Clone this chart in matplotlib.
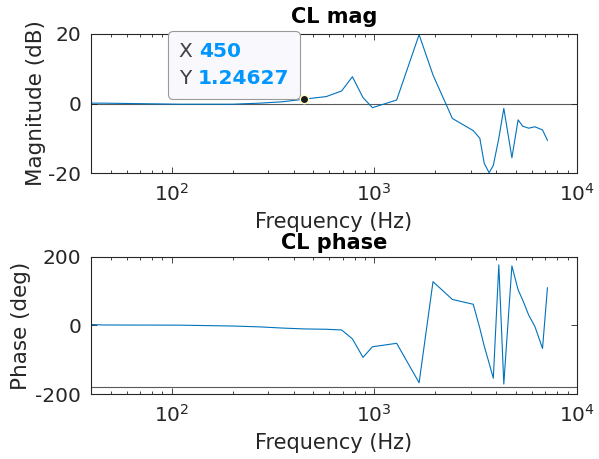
import numpy as np
import matplotlib
matplotlib.use('Agg')
import matplotlib.pyplot as plt
from matplotlib.offsetbox import TextArea, HPacker, VPacker, AnnotationBbox

# closed-loop response
freq = [40, 46, 110, 200, 272, 353, 450, 580, 690, 780, 880, 980, 1290, 1665, 1950,
        2430, 3080, 3320, 3490, 3690, 3870, 4120, 4360, 4780, 5130, 5400, 5780,
        6210, 6770, 7160]
mag_db = [0.1, 0.1, -0.2, -0.2, 0.1, 0.5, 1.24627, 2.0, 3.6, 7.7, 1.7, -1.2, 1.0, 19.8, 8.2,
          -4.3, -7.8, -10.0, -17.2, -19.9, -17.8, -10.0, -1.4, -15.6, -4.7, -6.5, -7.1,
          -6.7, -7.6, -10.6]
phase_deg = [3, 1.5, 1, -1.5, -4, -7.5, -10, -11, -13, -39, -93, -62, -52, -167, 128,
             76, 62, -8, -60, -110, -154, 177, -171, 174, 104, 75, 31,
             -3, -67, 110]

tip_x = 450
tip_y = 1.24627

line_col = '#0072BD'
axis_col = '#262626'
tip_col = '#0096FF'

plt.rcParams['font.family'] = ['DejaVu Sans']
plt.rcParams['font.size'] = 14.5
plt.rcParams['axes.unicode_minus'] = False

fig = plt.figure(figsize=(5.99, 4.59), dpi=100)
ax1 = fig.add_axes([0.152, 0.623, 0.811, 0.303])
ax2 = fig.add_axes([0.152, 0.1416, 0.811, 0.2985])


def style_axes(ax):
    ax.set_xscale('log')
    ax.set_xlim(40, 10000)
    ax.set_xticks([100, 1000, 10000])
    ax.tick_params(which='both', direction='in', top=True, right=True,
                   colors=axis_col, labelcolor=axis_col, width=0.6, labelsize=14.5)
    ax.tick_params(which='major', length=4, pad=7)
    ax.tick_params(which='minor', length=2.5)
    for s in ax.spines.values():
        s.set_color(axis_col)
        s.set_linewidth(0.8)
    ax.set_xlabel('Frequency (Hz)', color=axis_col, labelpad=5, fontsize=15)


style_axes(ax1)
ax1.axhline(0, color='#5a5a5a', lw=0.8, zorder=1)
ax1.plot(freq, mag_db, color=line_col, lw=0.8, zorder=2)
ax1.set_ylim(-20, 20)
ax1.set_yticks([-20, 0, 20])
ax1.set_ylabel('Magnitude (dB)', color=axis_col, fontsize=15.5, labelpad=2)
ax1.set_title('CL mag', fontweight='bold', fontsize=15, pad=8)

style_axes(ax2)
ax2.axhline(-180, color='#5a5a5a', lw=0.8, zorder=1)
ax2.plot(freq, phase_deg, color=line_col, lw=0.8, zorder=2)
ax2.set_ylim(-200, 200)
ax2.set_yticks([-200, 0, 200])
ax2.set_ylabel('Phase (deg)', color=axis_col, fontsize=15.5, labelpad=3)
ax2.set_title('CL phase', fontweight='bold', fontsize=15, pad=6)

# datatip like the matlab one
ax1.plot([tip_x], [tip_y], 'o', ms=6, mfc='#1a1a1a', mec='#ffffc0', mew=1.0, zorder=11)
fs = 14.5
row1 = HPacker(children=[TextArea('X', textprops=dict(color='#404040', fontsize=fs)),
                         TextArea(str(tip_x), textprops=dict(color=tip_col, fontsize=fs, fontweight='bold'))],
               pad=0, sep=5)
row2 = HPacker(children=[TextArea('Y', textprops=dict(color='#404040', fontsize=fs)),
                         TextArea('%.5f' % tip_y, textprops=dict(color=tip_col, fontsize=fs, fontweight='bold'))],
               pad=0, sep=5)
box = VPacker(children=[row1, row2], pad=2, sep=6, align='left')
ab = AnnotationBbox(box, (tip_x, tip_y), xybox=(-8.5, 6), xycoords='data',
                    boxcoords='offset points', box_alignment=(1, 0),
                    frameon=True, annotation_clip=False, fontsize=14.5,
                    bboxprops=dict(boxstyle='round,pad=0.4,rounding_size=0.25',
                                   fc='#f8f8fd', ec='#9a9a9a', lw=0.8))
ab.set_zorder(10)
ax1.add_artist(ab)

fig.savefig('out.png', dpi=100)
